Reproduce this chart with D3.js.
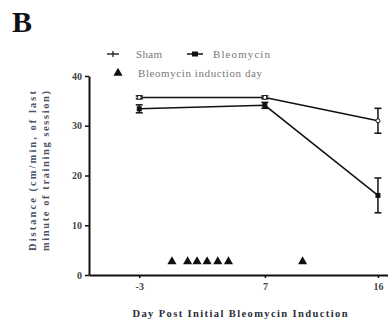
<!DOCTYPE html>
<html>
<head>
<meta charset="utf-8">
<script src="https://cdn.jsdelivr.net/npm/d3@7"></script>
<style>
  body { margin: 0; background: #fff; }
  svg { display: block; }
  svg text { font-family: 'Liberation Serif', 'DejaVu Serif', serif; }
</style>
</head>
<body>
<div id="chart"></div>
<script>
// chart values
const days = [-3, 7, 16];
const shamMean = [35.7, 35.7, 31.0];
const shamErr = [0.3, 0.3, 2.5];
const bleoMean = [33.4, 34.1, 16.0];
const bleoErr = [0.8, 0.6, 3.5];
const inductionDays = [-0.4, 0.85, 1.6, 2.4, 3.25, 4.1, 10.0];
const inductionLevel = 2.7;
const yTicks = [0, 10, 20, 30, 40];

const width = 388, height = 326;
const SERIF = "'Liberation Serif', 'DejaVu Serif', serif";

const svg = d3.select('#chart').append('svg')
    .attr('width', width)
    .attr('height', height);

const x = d3.scaleLinear().domain([-7, 16.8]).range([89, 388]);
const y = d3.scaleLinear().domain([0, 40]).range([275, 76]);

// panel letter
svg.append('text')
    .attr('x', 12).attr('y', 32)
    .attr('font-family', SERIF)
    .attr('font-size', 30).attr('font-weight', 'bold').attr('fill', '#111')
    .text('B');

// axes
const yAxis = svg.append('g')
    .attr('transform', `translate(${x(-7)},0)`)
    .call(d3.axisLeft(y).tickValues(yTicks).tickSize(4).tickSizeOuter(0).tickPadding(3));

const xAxis = svg.append('g')
    .attr('transform', `translate(0,${y(0)})`)
    .call(d3.axisBottom(x).tickValues(days).tickSize(3).tickSizeOuter(0).tickPadding(5)
        .tickFormat(d => d));

[yAxis, xAxis].forEach(g => {
    g.attr('font-family', SERIF);
    g.selectAll('.domain').attr('stroke', '#111').attr('stroke-width', 2);
    g.selectAll('.tick line').attr('stroke', '#111').attr('stroke-width', 1.5);
    g.selectAll('.tick text')
        .attr('font-family', SERIF)
        .attr('font-size', 10).attr('font-weight', 'bold').attr('fill', '#444');
});

// axis titles
svg.append('text')
    .attr('x', 240).attr('y', 317)
    .attr('text-anchor', 'middle')
    .attr('font-family', SERIF)
    .attr('font-size', 10.5).attr('font-weight', 'bold').attr('fill', '#2a2f3a')
    .attr('textLength', 215).attr('lengthAdjust', 'spacing')
    .text('Day Post Initial Bleomycin Induction');

const yTitle = svg.append('g')
    .attr('transform', 'translate(36,171) rotate(-90)')
    .attr('font-family', SERIF);
yTitle.append('text')
    .attr('text-anchor', 'middle').attr('y', 0)
    .attr('font-size', 10.5).attr('font-weight', 'bold').attr('fill', '#4a5262')
    .attr('textLength', 160).attr('lengthAdjust', 'spacing')
    .text('Distance (cm/min, of last');
yTitle.append('text')
    .attr('text-anchor', 'middle').attr('y', 13)
    .attr('font-size', 10.5).attr('font-weight', 'bold').attr('fill', '#4a5262')
    .attr('textLength', 160).attr('lengthAdjust', 'spacing')
    .text('minute of training session)');

// series
const series = [
    { name: 'Sham', mean: shamMean, err: shamErr, marker: 'circle' },
    { name: 'Bleomycin', mean: bleoMean, err: bleoErr, marker: 'square' }
];

const line = d3.line().x(d => x(d.day)).y(d => y(d.v));

series.forEach(s => {
    const pts = days.map((d, i) => ({ day: d, v: s.mean[i], e: s.err[i] }));
    const g = svg.append('g');

    g.append('path')
        .datum(pts)
        .attr('d', line)
        .attr('fill', 'none')
        .attr('stroke', '#111')
        .attr('stroke-width', 1.5);

    // error bars
    const eb = g.selectAll('.err').data(pts).enter().append('g').attr('class', 'err');
    eb.append('line')
        .attr('x1', d => x(d.day)).attr('x2', d => x(d.day))
        .attr('y1', d => y(d.v - d.e)).attr('y2', d => y(d.v + d.e))
        .attr('stroke', '#111').attr('stroke-width', 1.5);
    eb.selectAll('.cap').data(d => [d.v - d.e, d.v + d.e].map(v => ({ day: d.day, v })))
        .enter().append('line')
        .attr('x1', d => x(d.day) - 3.5).attr('x2', d => x(d.day) + 3.5)
        .attr('y1', d => y(d.v)).attr('y2', d => y(d.v))
        .attr('stroke', '#111').attr('stroke-width', 1.5);

    if (s.marker === 'circle') {
        g.selectAll('.pt').data(pts).enter().append('circle')
            .attr('cx', d => x(d.day)).attr('cy', d => y(d.v)).attr('r', 2)
            .attr('fill', '#fff').attr('stroke', '#111').attr('stroke-width', 1);
    } else {
        g.selectAll('.pt').data(pts).enter().append('rect')
            .attr('x', d => x(d.day) - 2.5).attr('y', d => y(d.v) - 2.5)
            .attr('width', 5).attr('height', 5)
            .attr('fill', '#111');
    }
});

// induction days
const tri = d3.symbol().type(d3.symbolTriangle).size(36);
svg.selectAll('.tri').data(inductionDays).enter().append('path')
    .attr('d', tri)
    .attr('transform', d => `translate(${x(d)},${y(inductionLevel)})`)
    .attr('fill', '#111');

// legend
const legend = svg.append('g')
    .attr('font-family', SERIF).attr('font-size', 11).attr('fill', '#777');
// Sham
legend.append('line').attr('x1', 107).attr('x2', 119).attr('y1', 54).attr('y2', 54)
    .attr('stroke', '#111').attr('stroke-width', 1.3);
legend.append('line').attr('x1', 113).attr('x2', 113).attr('y1', 51).attr('y2', 57)
    .attr('stroke', '#111').attr('stroke-width', 1.2);
legend.append('text').attr('x', 136).attr('y', 57.5)
    .attr('textLength', 26).attr('lengthAdjust', 'spacing').text('Sham');
// Bleomycin
legend.append('line').attr('x1', 187).attr('x2', 203).attr('y1', 54).attr('y2', 54)
    .attr('stroke', '#111').attr('stroke-width', 1.5);
legend.append('rect').attr('x', 192).attr('y', 51.5).attr('width', 6).attr('height', 5)
    .attr('fill', '#111');
legend.append('text').attr('x', 213).attr('y', 57.5)
    .attr('textLength', 57).attr('lengthAdjust', 'spacing').text('Bleomycin');
// induction marker
legend.append('path').attr('d', tri).attr('transform', 'translate(118,73)').attr('fill', '#111');
legend.append('text').attr('x', 138).attr('y', 76.5)
    .attr('textLength', 124).attr('lengthAdjust', 'spacing').text('Bleomycin induction day');
</script>
</body>
</html>
